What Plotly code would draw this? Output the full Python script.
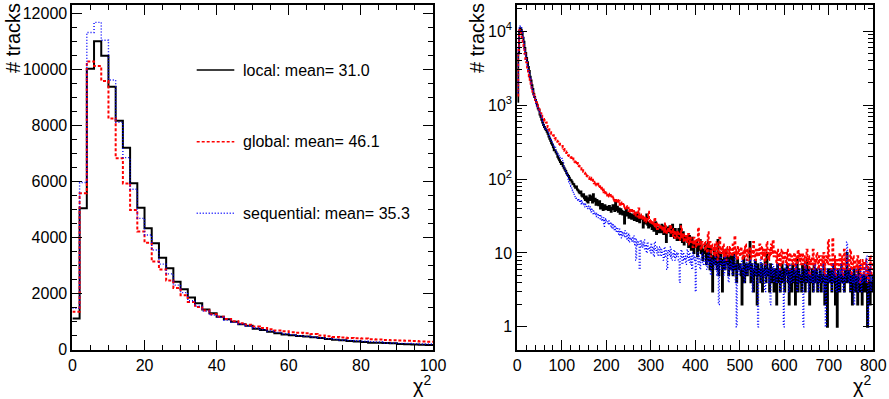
import numpy as np
import plotly.graph_objects as go

BIN_WIDTH = 2.0
W, H = 889, 399

# ---------------- data: chi2 histograms, bin width 2 ----------------
# bins 0..100 (shared by both panels)
local_counts = [1110, 5040, 10020, 11010, 10490, 9380, 8170, 7200, 5940, 5060,
                4330, 3790, 3280, 2900, 2420, 2150, 1860, 1650, 1430, 1290,
                1170, 1080, 990, 900, 850, 745, 695, 635, 580, 540,
                505, 480, 460, 435, 410, 375, 350, 330, 305, 290,
                270, 245, 245, 230, 220, 200, 190, 180, 170, 160]
global_counts = [1350, 5580, 10280, 10120, 9590, 8250, 6830, 5930, 4980, 4210,
                 3810, 3140, 2860, 2460, 2200, 1940, 1700, 1520, 1390, 1260,
                 1170, 1090, 1010, 940, 880, 820, 770, 720, 680, 650,
                 620, 600, 580, 550, 500, 470, 450, 430, 410, 400,
                 390, 370, 360, 340, 330, 320, 310, 300, 290, 280]
seq_counts = [1470, 5960, 11320, 11680, 11040, 9620, 8110, 6850, 5720, 4680,
              4090, 3550, 3050, 2700, 2300, 2030, 1740, 1550, 1370, 1230,
              1150, 1050, 970, 900, 840, 770, 710, 660, 610, 565,
              530, 495, 470, 445, 420, 387, 363, 340, 327, 315,
              292, 280, 268, 232, 232, 220, 220, 208, 196, 196]

# bins 100..800 (right panel only)
local_tail = [165, 150, 142, 135, 128, 120, 114, 110, 104, 98,
              96, 92, 86, 85, 80, 76, 79, 72, 70, 66,
              64, 68, 60, 58, 62, 55, 52, 58, 50, 48,
              55, 60, 52, 58, 48, 62, 50, 54, 45, 52,
              48, 44, 50, 40, 42, 46, 38, 41, 44, 39,
              40, 42, 38, 43, 41, 36, 40, 44, 39, 37,
              52, 38, 42, 36, 40, 34, 39, 37, 33, 36,
              25, 35, 38, 32, 36, 30, 34, 33, 29, 31,
              33, 28, 31, 35, 27, 30, 33, 26, 29, 31,
              30, 22, 28, 25, 27, 33, 24, 22, 26, 23,
              24, 21, 25, 20, 23, 26, 18, 22, 19, 21,
              22, 19, 24, 21, 18, 23, 20, 14, 22, 19,
              20, 23, 17, 21, 24, 18, 16, 21, 19, 15,
              18, 21, 15, 24, 17, 14, 19, 13, 17, 15,
              16, 14, 12, 17, 15, 11, 16, 13, 10, 14,
              12, 14, 9, 13, 11, 15, 10, 12, 8, 11,
              10, 13, 7, 11, 14, 8, 6, 12, 9, 3,
              9, 11, 7, 10, 6, 15, 5, 8, 10, 7,
              3, 8, 10, 6, 11, 7, 9, 5, 9, 7,
              6, 9, 5, 10, 7, 6, 4, 8, 7, 6,
              7, 5, 2, 6, 9, 4, 7, 6, 5, 7,
              6, 14, 4, 7, 5, 3, 6, 8, 5, 2,
              7, 5, 6, 4, 7, 3, 6, 5, 8, 4,
              10, 5, 6, 3, 7, 4, 6, 5, 3, 6,
              5, 2, 7, 4, 6, 3, 5, 7, 4, 6,
              3, 6, 5, 7, 4, 2, 6, 5, 3, 7,
              4, 6, 2, 5, 8, 3, 6, 4, 5, 3,
              7, 4, 6, 3, 5, 8, 4, 6, 2, 5,
              4, 6, 3, 7, 5, 4, 6, 3, 5, 4,
              6, 3, 5, 4, 7, 2, 5, 4, 1, 6,
              5, 4, 6, 3, 5, 7, 4, 2, 5, 1,
              6, 4, 3, 5, 7, 4, 5, 3, 6, 4,
              10, 5, 4, 6, 3, 5, 2, 4, 6, 3,
              5, 4, 2, 6, 3, 5, 4, 2, 5, 3,
              4, 5, 3, 1, 4, 6, 2, 4, 3, 5]
global_tail = [280, 265, 255, 240, 236, 225, 218, 210, 205, 198,
               195, 185, 190, 178, 172, 168, 160, 165, 152, 150,
               148, 140, 135, 138, 125, 122, 118, 120, 110, 108,
               106, 100, 104, 95, 98, 90, 88, 92, 84, 82,
               86, 78, 80, 74, 76, 70, 72, 66, 69, 64,
               66, 60, 63, 58, 61, 56, 58, 53, 56, 51,
               54, 50, 52, 47, 51, 45, 48, 44, 46, 42,
               44, 40, 43, 39, 41, 37, 40, 36, 38, 35,
               37, 34, 36, 32, 35, 31, 40, 30, 33, 29,
               32, 28, 31, 27, 30, 26, 29, 36, 27, 25,
               28, 24, 27, 23, 30, 22, 25, 21, 24, 22,
               24, 21, 23, 20, 22, 19, 25, 18, 21, 19,
               22, 19, 24, 18, 21, 17, 20, 16, 19, 17,
               20, 16, 18, 15, 23, 16, 18, 14, 17, 15,
               17, 14, 18, 13, 16, 14, 15, 12, 16, 13,
               15, 12, 14, 22, 13, 15, 11, 14, 12, 13,
               14, 11, 13, 10, 19, 12, 14, 9, 13, 11,
               12, 9, 13, 10, 14, 8, 12, 16, 10, 12,
               10, 13, 9, 11, 8, 12, 10, 11, 9, 12,
               11, 9, 13, 10, 17, 9, 11, 8, 12, 10,
               9, 12, 10, 8, 11, 9, 13, 10, 8, 11,
               10, 12, 8, 11, 9, 14, 10, 8, 11, 9,
               11, 9, 13, 10, 8, 12, 9, 11, 7, 10,
               14, 10, 8, 11, 9, 13, 10, 15, 9, 11,
               9, 7, 11, 8, 10, 6, 9, 11, 7, 8,
               10, 8, 7, 11, 9, 6, 10, 8, 9, 7,
               8, 10, 6, 9, 7, 11, 8, 10, 7, 9,
               10, 7, 9, 6, 8, 11, 7, 9, 5, 8,
               7, 9, 11, 6, 8, 7, 10, 8, 6, 9,
               8, 6, 9, 7, 10, 5, 8, 9, 7, 15,
               9, 7, 8, 6, 16, 7, 9, 5, 8, 7,
               8, 6, 10, 7, 9, 5, 8, 11, 6, 8,
               9, 7, 6, 8, 11, 5, 7, 9, 6, 8,
               7, 5, 9, 6, 8, 4, 7, 6, 8, 5,
               6, 8, 5, 7, 4, 6, 9, 5, 6, 7]
seq_tail = [190, 170, 150, 135, 125, 115, 108, 100, 92, 85,
            80, 74, 70, 65, 62, 58, 55, 52, 54, 50,
            48, 52, 46, 49, 44, 47, 42, 45, 40, 43,
            41, 38, 42, 36, 39, 34, 37, 33, 35, 31,
            34, 30, 33, 28, 32, 27, 30, 23, 29, 26,
            28, 25, 27, 24, 26, 22, 25, 21, 24, 20,
            23, 19, 22, 18, 21, 17, 20, 16, 19, 17,
            20, 16, 19, 15, 18, 14, 17, 15, 16, 14,
            17, 13, 16, 8, 15, 13, 14, 6, 15, 12,
            14, 12, 15, 11, 13, 10, 14, 11, 12, 10,
            13, 10, 12, 9, 14, 11, 10, 12, 9, 11,
            12, 9, 11, 10, 8, 12, 9, 11, 6, 10,
            11, 9, 12, 8, 10, 9, 11, 8, 10, 9,
            10, 8, 4, 9, 11, 7, 10, 8, 9, 7,
            9, 11, 8, 10, 7, 9, 6, 10, 8, 9,
            3, 8, 10, 7, 9, 6, 8, 10, 7, 8,
            9, 7, 8, 6, 10, 7, 9, 5, 8, 7,
            8, 6, 9, 7, 5, 8, 2, 7, 9, 6,
            7, 8, 5, 9, 6, 7, 8, 4, 7, 6,
            8, 5, 7, 6, 9, 4, 1, 7, 6, 5,
            7, 6, 8, 5, 7, 4, 6, 8, 5, 7,
            6, 8, 5, 7, 3, 6, 8, 5, 7, 4,
            1, 6, 5, 8, 4, 7, 5, 6, 3, 7,
            5, 6, 4, 7, 2, 6, 5, 7, 4, 6,
            6, 4, 7, 5, 6, 3, 5, 6, 4, 1,
            5, 7, 4, 6, 5, 3, 7, 4, 6, 5,
            4, 6, 5, 7, 3, 5, 6, 4, 5, 6,
            3, 1, 5, 7, 4, 6, 5, 3, 6, 4,
            5, 4, 6, 3, 7, 5, 4, 6, 3, 5,
            6, 4, 5, 7, 3, 5, 1, 6, 4, 5,
            4, 6, 5, 3, 7, 4, 6, 5, 3, 6,
            5, 3, 6, 4, 7, 5, 3, 6, 4, 5,
            14, 5, 4, 6, 3, 5, 4, 6, 2, 5,
            4, 6, 3, 5, 4, 7, 3, 5, 4, 6,
            5, 4, 9, 6, 1, 4, 7, 3, 5, 4]

legend_labels = ["local: mean= 31.0", "global: mean= 46.1", "sequential: mean= 35.3"]
y_title = "# tracks"
x_title = "χ<sup>2</sup>"
log_tickvals = [1, 10, 100, 1000, 10000]
log_ticktext = ["1", "10", "10<sup>2</sup>", "10<sup>3</sup>", "10<sup>4</sup>"]

# ---------------- styles ----------------
FONT = "Liberation Sans, Arial, Helvetica, sans-serif"
styles = [dict(color="black", width=2, dash="solid"),
          dict(color="#ff0000", width=2, dash="3px,2px"),
          dict(color="#0000ff", width=1.4, dash="1px,2px")]


def steps(counts):
    edges = np.arange(len(counts) + 1) * BIN_WIDTH
    return edges, list(counts) + [counts[-1]]


fig = go.Figure()
left_sets = [local_counts, global_counts, seq_counts]
right_sets = [local_counts + local_tail, global_counts + global_tail, seq_counts + seq_tail]
for counts, st in zip(left_sets, styles):
    x, y = steps(counts)
    fig.add_trace(go.Scatter(x=x, y=y, mode="lines", line=dict(shape="hv", **st),
                             xaxis="x", yaxis="y", showlegend=False, hoverinfo="skip"))
for counts, st in zip(right_sets, styles):
    x, y = steps(counts)
    fig.add_trace(go.Scatter(x=x, y=y, mode="lines", line=dict(shape="hv", **st),
                             xaxis="x2", yaxis="y2", showlegend=False, hoverinfo="skip"))

# plot areas in pixels
L1, R1 = 72.4, 433.0
L2, R2 = 517.3, 873.3
TOP, BOT = 5.0, 349.5


def px(v):
    return v / W


def py(v):
    return 1 - v / H


common = dict(showline=True, linecolor="black", linewidth=2, mirror="allticks",
              ticks="inside", ticklen=10, tickwidth=1, tickcolor="black",
              showgrid=False, zeroline=False, automargin=False,
              tickfont=dict(family=FONT, size=16, color="black"))
minor = dict(ticks="inside", ticklen=5, tickwidth=1, tickcolor="black", showgrid=False)

fig.update_layout(
    width=W, height=H, margin=dict(l=0, r=0, t=0, b=0, pad=0, autoexpand=False),
    paper_bgcolor="white", plot_bgcolor="white", showlegend=False,
    xaxis=dict(domain=[px(L1), px(R1)], range=[0, 100], anchor="y", tick0=0, dtick=20,
               minor=dict(dtick=5, **minor), **common),
    yaxis=dict(domain=[py(BOT), py(TOP)], range=[0, 12300], anchor="x", tick0=0, dtick=2000,
               tickformat="d", minor=dict(dtick=500, **minor), **common),
    xaxis2=dict(domain=[px(L2), px(R2)], range=[0, 800], anchor="y2", tick0=0, dtick=100,
                minor=dict(dtick=20, **minor), **common),
    yaxis2=dict(domain=[py(BOT), py(TOP)], type="log", range=[-0.307, 4.355], anchor="x2",
                tickmode="array", tickvals=log_tickvals, ticktext=log_ticktext,
                minor=dict(tickmode="array",
                           tickvals=[m * d for d in log_tickvals for m in range(2, 10)], **minor),
                **common),
)

ann_font = dict(family=FONT, size=20, color="black")
for xc in (13, 477):
    fig.add_annotation(x=px(xc), y=py(1), xref="paper", yref="paper", text=y_title,
                       textangle=-90, xanchor="center", yanchor="top", showarrow=False,
                       font=ann_font)
for xr in (R1, R2):
    fig.add_annotation(x=px(xr + 1), y=py(370), xref="paper", yref="paper", text=x_title,
                       xanchor="right", yanchor="top", showarrow=False, font=ann_font)

# legend drawn as lines + text (no box)
rows = [70, 141.7, 213.3]
for lab, st, yr in zip(legend_labels, styles, rows):
    fig.add_shape(type="line", xref="paper", yref="paper", x0=px(196.7), x1=px(234.3),
                  y0=py(yr), y1=py(yr), line=dict(color=st["color"], width=1.4,
                                                  dash=st["dash"]))
    fig.add_annotation(x=px(241), y=py(yr), xref="paper", yref="paper", text=lab,
                       xanchor="left", yanchor="middle", showarrow=False,
                       font=dict(family=FONT, size=16, color="black"))

fig.write_html("out.html", config={"displayModeBar": False},
               post_script="document.body.style.margin='0';document.body.style.overflow='hidden';")
